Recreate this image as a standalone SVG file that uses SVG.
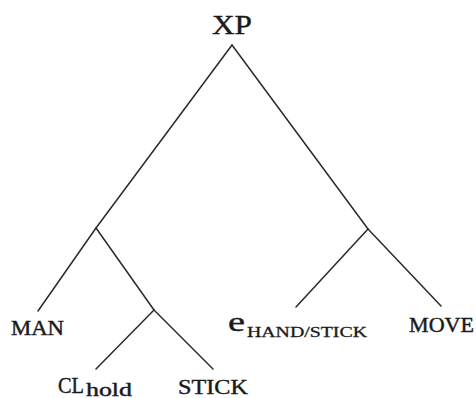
<svg xmlns="http://www.w3.org/2000/svg" width="476" height="398" viewBox="0 0 476 398">
<style>
.e{stroke:#2a2a2a;stroke-width:1.5;fill:none;stroke-linecap:round}
text{font-family:"Liberation Serif","DejaVu Serif",serif;fill:#1a1a1a;stroke:#1a1a1a;stroke-width:0.4}
.big{font-size:28px}
.sc{font-size:20px}
.sub{font-size:15px;stroke-width:0.3}
</style>
<rect width="476" height="398" fill="#fff"/>
<g id="connectors">
<line class="e" x1="232" y1="45" x2="96" y2="228"/>
<line class="e" x1="232" y1="45" x2="368" y2="229"/>
<line class="e" x1="96" y1="228" x2="38" y2="311"/>
<line class="e" x1="96" y1="228" x2="154" y2="310"/>
<line class="e" x1="154" y1="310" x2="96" y2="369"/>
<line class="e" x1="154" y1="310" x2="213" y2="369"/>
<line class="e" x1="368" y1="229" x2="296" y2="307"/>
<line class="e" x1="368" y1="229" x2="441" y2="306"/>
</g>
<g id="XP"><text class="big" x="212" y="34" textLength="40" lengthAdjust="spacingAndGlyphs">XP</text></g>
<g id="MAN"><text class="sc" x="11" y="335" textLength="53" lengthAdjust="spacingAndGlyphs">MAN</text></g>
<g id="CLhold"><text x="58" y="393" font-size="23" textLength="26" lengthAdjust="spacingAndGlyphs">CL</text><text x="86" y="396" font-size="18" textLength="46" lengthAdjust="spacingAndGlyphs">hold</text></g>
<g id="STICK"><text class="sc" x="178" y="394" textLength="70" lengthAdjust="spacingAndGlyphs">STICK</text></g>
<g id="e"><text class="big" x="228" y="331" textLength="17" lengthAdjust="spacingAndGlyphs">e</text><text class="sub" x="247" y="337" textLength="120" lengthAdjust="spacingAndGlyphs">HAND/STICK</text></g>
<g id="MOVE"><text class="sc" x="409" y="332" textLength="65" lengthAdjust="spacingAndGlyphs">MOVE</text></g>
</svg>
